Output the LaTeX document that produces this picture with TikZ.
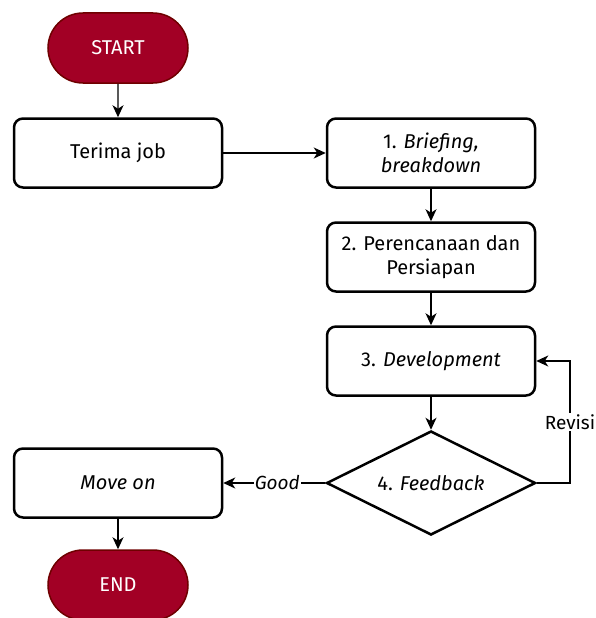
\documentclass[tikz,border=0pt]{standalone}
\usepackage{fontspec}
\setmainfont{Fira Sans}
\usetikzlibrary{shapes.geometric,shapes.misc,arrows.meta,positioning}
\definecolor{termfill}{HTML}{A20025}
\definecolor{termdraw}{HTML}{6F0000}
\begin{document}
\begin{tikzpicture}[x=1pt,y=-1pt,
  every node/.style={font=\fontsize{20}{24}\selectfont},
  term/.style={draw=termdraw,fill=termfill,text=white,line width=1.5pt,rounded rectangle,minimum width=140pt,minimum height=70pt,inner sep=0pt},
  proc/.style={draw,line width=2.5pt,rounded corners=9pt,minimum width=208pt,minimum height=69pt,align=center,inner sep=2pt},
  dec/.style={draw,line width=2.5pt,diamond,aspect=2,minimum width=209pt,minimum height=104pt,inner sep=0pt},
  conn/.style={line width=1.3pt,-{Stealth[length=12pt,width=11pt,inset=3.5pt]}},
  lbl/.style={fill=white,inner sep=1pt,font=\fontsize{19}{22}\selectfont}]
\useasboundingbox (0,0) rectangle (595,618);
\node[term] (start) at (118,48) {START};
\node[proc] (terima) at (118,153) {Terima job};
\node[proc] (s1) at (431,153) {1. \textit{Briefing,}\\\textit{breakdown}};
\node[proc] (s2) at (431,257) {2. Perencanaan dan\\Persiapan};
\node[proc] (s3) at (431,361) {3. \textit{Development}};
\node[dec] (s4) at (431,483) {4. \textit{Feedback}};
\node[proc] (move) at (118,483) {\textit{Move on}};
\node[term] (end) at (118,585) {END};
\coordinate (rv1) at (570,483);
\coordinate (rv2) at (570,361);
\draw[conn] (start) -- (terima);
\draw[conn] (terima) -- (s1);
\draw[conn] (s1) -- (s2);
\draw[conn] (s2) -- (s3);
\draw[conn] (s3) -- (s4);
\draw[conn] (s4) -- node[lbl,pos=0.47]{\textit{Good}} (move);
\draw[conn] (s4.east) -- (rv1) -- node[lbl,pos=0.5]{Revisi} (rv2) -- (s3.east);
\draw[conn] (move) -- (end);
\end{tikzpicture}
\end{document}
